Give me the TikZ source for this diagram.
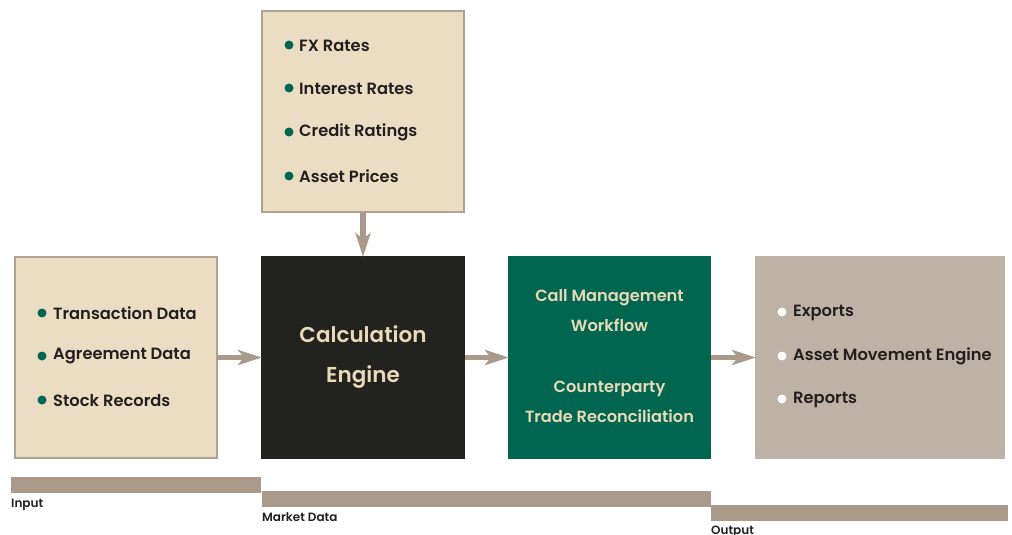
\documentclass[tikz,border=0pt]{standalone}
\usepackage{fontspec}
\setmainfont{Poppins}[UprightFont=* SemiBold]
\usetikzlibrary{arrows.meta}
\definecolor{sand}{HTML}{EBDDC3}
\definecolor{sandline}{HTML}{AFA194}
\definecolor{ink}{HTML}{22231F}
\definecolor{pine}{HTML}{00664F}
\definecolor{stone}{HTML}{BEB2A7}
\definecolor{bar}{HTML}{A99A8C}
\definecolor{txt}{HTML}{231F20}
\definecolor{cream}{HTML}{E9D9B9}
\tikzset{
  box/.style={minimum width=#1, minimum height=201pt, inner sep=0pt, outer sep=0pt},
  sandbox/.style={box=#1, fill=sand, draw=sandline, line width=2.4pt},
  item/.style={anchor=west, inner sep=0pt, text=txt, font=\fontsize{16.3}{18}\selectfont},
  dot/.style={fill=pine},
  wdot/.style={fill=white},
  flow/.style={draw=bar, line width=5.5pt, -{Stealth[length=24pt, width=15pt, inset=6pt]}, shorten >=-1pt},
  band/.style={fill=bar, inner sep=0pt, outer sep=0pt, minimum height=15.5pt, anchor=north west},
  tag/.style={anchor=north west, inner sep=0pt, text=txt, font=\fontsize{12}{13}\selectfont},
  light/.style={text=cream, align=center, inner sep=0pt},
}
\begin{document}
\begin{tikzpicture}[x=1pt, y=-1pt]
\useasboundingbox (0,0) rectangle (1012,535);

% main blocks
\node[sandbox=202pt] (market) at (363,111.5) {};
\node[sandbox=202pt] (input) at (116,357.5) {};
\node[box=204pt, minimum height=203pt, fill=ink] (calc) at (363,357.5) {};
\node[box=203pt, minimum height=203pt, fill=pine] (recon) at (609.5,357.5) {};
\node[box=250pt, minimum height=203pt, fill=stone] (output) at (880,357.5) {};

% market data list
\foreach \y/\t [count=\i] in {45/FX Rates, 88/Interest Rates, 132/Credit Ratings, 176/Asset Prices} {
  \fill[dot] (289,\y) circle (4.5pt);
  \node[item] (m\i) at (299,\y+0.5) {\t};
}
% input list
\foreach \y/\t [count=\i] in {313/Transaction Data, 356/Agreement Data, 400/Stock Records} {
  \fill[dot] (42,\y) circle (4.5pt);
  \node[item] (i\i) at (53,\y+0.5) {\t};
}
% output list
\foreach \y/\t [count=\i] in {312/Exports, 356/Asset Movement Engine, 399/Reports} {
  \fill[wdot] (782,\y) circle (4.5pt);
  \node[item] (o\i) at (793,\y+0.5) {\t};
}

% engine labels
\node[light, font=\fontsize{21.5}{40}\selectfont] (calctext) at (363,357) {Calculation\\Engine};
\node[light, font=\fontsize{16.2}{30}\selectfont] (call) at (609.5,311) {Call Management\\Workflow};
\node[light, font=\fontsize{16.2}{30}\selectfont] (cpty) at (609.5,402) {Counterparty\\Trade Reconciliation};

% connectors
\draw[flow] (market.south) -- (calc.north);
\draw[flow] (input.east) -- (calc.west);
\draw[flow] (calc.east) -- (recon.west);
\draw[flow] (recon.east) -- (output.west);

% stage bands
\node[band, minimum width=250pt] (inband) at (11,477) {};
\node[band, minimum width=449pt] (mdband) at (262,491) {};
\node[band, minimum width=297pt] (outband) at (711,505) {};
\node[tag] (inlbl) at ([yshift=-6pt]inband.south west) {Input};
\node[tag] (mdlbl) at ([yshift=-6pt]mdband.south west) {Market Data};
\node[tag] (outlbl) at ([yshift=-5pt]outband.south west) {Output};
\end{tikzpicture}
\end{document}
